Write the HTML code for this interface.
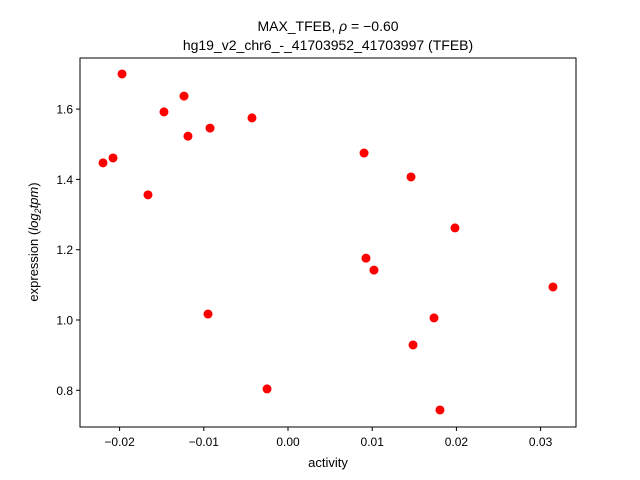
<!DOCTYPE html>
<html><head><meta charset="utf-8">
<style>
body{margin:0;background:#fff;}
svg{display:block;font-family:"Liberation Sans","DejaVu Sans",sans-serif;}
</style></head>
<body>
<svg id="chart" width="640" height="480" viewBox="0 0 640 480">
  <rect x="0" y="0" width="640" height="480" fill="#fff"/>
  <text x="328" y="31" text-anchor="middle" font-size="14">MAX_TFEB, <tspan font-style="italic">ρ</tspan> = −0.60</text>
  <text x="328" y="50" text-anchor="middle" font-size="14">hg19_v2_chr6_-_41703952_41703997 (TFEB)</text>
  <g id="xticks"></g>
  <g id="yticks"></g>
  <g id="points"></g>
  <rect x="80" y="58" width="496" height="369" fill="none" stroke="#000" stroke-width="1"/>
  <text x="328" y="467" text-anchor="middle" font-size="13">activity</text>
  <text transform="translate(38,242) rotate(-90)" text-anchor="middle" font-size="13">expression (<tspan font-style="italic">log</tspan><tspan font-size="9" dy="3" font-style="italic">2</tspan><tspan dy="-3" font-style="italic">tpm</tspan>)</text>
</svg>
<script>
const activity = [-0.02197,-0.02078,-0.01971,-0.01663,-0.01473,-0.01235,-0.01188,-0.00926,-0.0095,-0.00428,-0.00249,0.00903,0.00926,0.01021,0.01461,0.01485,0.01734,0.01805,0.01983,0.03147];
const expression = [1.447,1.461,1.700,1.356,1.592,1.637,1.523,1.546,1.017,1.575,0.804,1.475,1.176,1.142,1.407,0.929,1.006,0.744,1.262,1.094];
const xTickValues = [-0.02,-0.01,0.00,0.01,0.02,0.03];
const xTickLabels = ["−0.02","−0.01","0.00","0.01","0.02","0.03"];
const yTickValues = [0.8,1.0,1.2,1.4,1.6];
const yTickLabels = ["0.8","1.0","1.2","1.4","1.6"];

const NS = "http://www.w3.org/2000/svg";
function xs(v){ return 288 + v*8420; }
function ys(v){ return 320 - (v-1.0)*351.5; }
function mk(tag, attrs, parent){
  const e = document.createElementNS(NS, tag);
  for (const k in attrs) e.setAttribute(k, attrs[k]);
  parent.appendChild(e); return e;
}
const gx = document.getElementById('xticks');
xTickValues.forEach((v,i)=>{
  const x = xs(v);
  const t = mk('line',{x1:x,x2:x,y1:427,y2:431,stroke:'#000'},gx);
  
  
  const l = mk('text',{x:x,y:446,'text-anchor':'middle','font-size':'12'},gx);
  l.textContent = xTickLabels[i];
  
  
});
const gy = document.getElementById('yticks');
yTickValues.forEach((v,i)=>{
  const y = ys(v);
  const t = mk('line',{x1:76,x2:80,y1:y,y2:y,stroke:'#000'},gy);
  
  
  const l = mk('text',{x:73,y:y+4.5,'text-anchor':'end','font-size':'12'},gy);
  l.textContent = yTickLabels[i];
  
  
});
const gp = document.getElementById('points');
activity.forEach((a,i)=>{
  const c = mk('circle',{cx:xs(a),cy:ys(expression[i]),r:4.5,fill:'#ff0000'},gp);
  
  
});
</script>
</body></html>
